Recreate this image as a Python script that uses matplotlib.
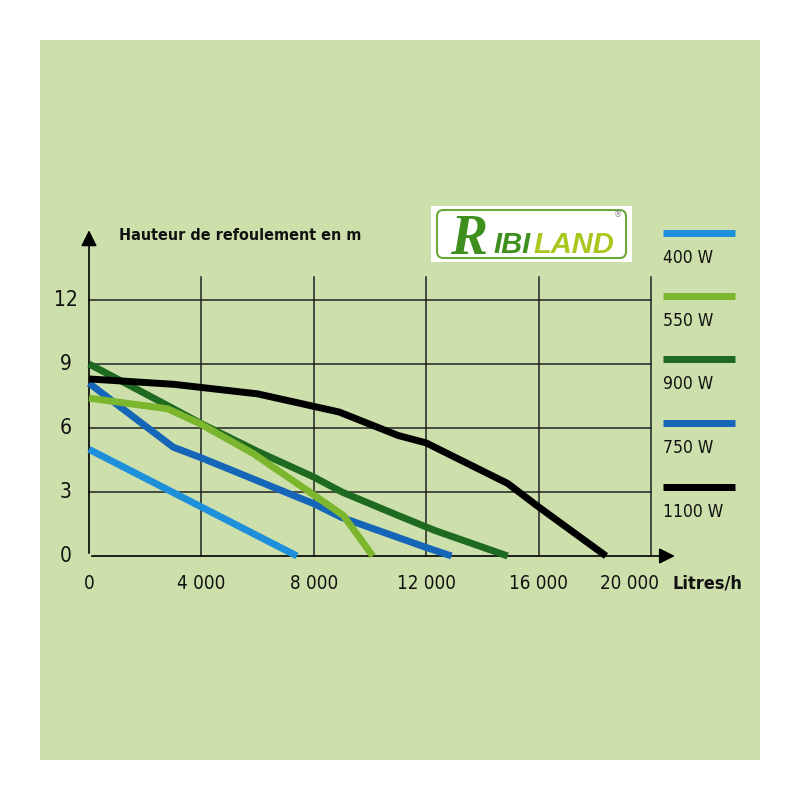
import matplotlib
matplotlib.use('Agg')
import matplotlib.pyplot as plt
from matplotlib import font_manager
from matplotlib.lines import Line2D
from matplotlib.patches import Rectangle, FancyBboxPatch

# pump curves: flow (L/h) vs head (m)
x_400 = [0, 7400]
y_400 = [5.0, 0]
x_550 = [0, 2800, 3950, 5850, 7850, 9050, 10100]
y_550 = [7.4, 6.9, 6.2, 4.8, 3.0, 1.9, 0]
x_900 = [0, 2300, 4000, 6000, 8000, 9000, 11000, 12300, 14900]
y_900 = [9.0, 7.4, 6.2, 4.9, 3.7, 3.0, 1.9, 1.2, 0]
x_750 = [0, 3000, 4000, 8000, 9000, 12000, 12900]
y_750 = [8.1, 5.1, 4.6, 2.45, 1.8, 0.4, 0]
x_1100 = [0, 3000, 6000, 8900, 11000, 12000, 14900, 16000, 18400]
y_1100 = [8.3, 8.05, 7.6, 6.75, 5.65, 5.3, 3.4, 2.3, 0]

labels = ['400 W', '550 W', '900 W', '750 W', '1100 W']
colors = ['#1e8fdb', '#7cb62f', '#1e6a20', '#1565b9', '#000000']
xticks = [0, 4000, 8000, 12000, 16000, 20000]
xtick_labels = ['0', '4 000', '8 000', '12 000', '16 000', '20 000']
yticks = [0, 3, 6, 9, 12]

names = {f.name for f in font_manager.fontManager.ttflist}
if 'Liberation Sans Narrow' in names:
    FONT = dict(family='Liberation Sans Narrow')
else:
    FONT = dict(family='DejaVu Sans', stretch='condensed')

def P(x, y):
    return x / 800, 1 - y / 800

fig = plt.figure(figsize=(8, 8), dpi=100)
fig.patch.set_facecolor('white')
fig.add_artist(Rectangle(P(40, 760), 720 / 800, 720 / 800, transform=fig.transFigure,
                         facecolor='#cde0ab', edgecolor='none', zorder=0))

ax = fig.add_axes([89 / 800, (800 - 556) / 800, (651 - 89) / 800, (556 - 300) / 800])
ax.set_xlim(0, 20000)
ax.set_ylim(0, 12)
ax.axis('off')
ax.patch.set_alpha(0)

# grid
for xv in xticks[1:]:
    ax.plot([xv, xv], [0, 13.1], color='#222222', lw=1.1, clip_on=False, zorder=1)
for yv in yticks[1:]:
    ax.plot([0, 20000], [yv, yv], color='#222222', lw=1.1, clip_on=False, zorder=1)

# axes with arrows
ax.annotate('', xy=(0, 15.4), xytext=(0, 0), annotation_clip=False,
            arrowprops=dict(arrowstyle='-|>', mutation_scale=24, lw=1.2, color='black'))
ax.annotate('', xy=(20950, 0), xytext=(0, 0), annotation_clip=False,
            arrowprops=dict(arrowstyle='-|>', mutation_scale=24, lw=1.2, color='black'))

series = [(x_400, y_400), (x_550, y_550), (x_900, y_900), (x_750, y_750), (x_1100, y_1100)]
order = [0, 3, 2, 1, 4]
for i in order:
    xs, ys = series[i]
    ax.plot(xs, ys, color=colors[i], lw=5, solid_capstyle='butt', clip_on=False, zorder=3)

for yv in yticks:
    ax.text(-820, yv, str(yv), ha='center', va='center', fontsize=15, color='#111111', **FONT)
for xv, lab in zip(xticks, xtick_labels):
    if xv == xticks[-1]:
        # last label sits left of its gridline, before "Litres/h"
        ax.text(xv + 300, -1.27, lab, ha='right', va='center', fontsize=13.5, color='#111111', **FONT)
    else:
        ax.text(xv, -1.27, lab, ha='center', va='center', fontsize=13.5, color='#111111', **FONT)

ax.text(20750, -1.27, 'Litres/h', ha='left', va='center', fontsize=13, fontweight='bold',
        color='#111111', **FONT)
fig.text(*P(119, 236), 'Hauteur de refoulement en m', ha='left', va='center', fontsize=11.5,
         fontweight='bold', color='#111111', **FONT)

# legend
leg_y = [233, 296, 359, 423, 487]
for lab, c, y in zip(labels, colors, leg_y):
    fig.add_artist(Line2D([663 / 800, 735 / 800], [1 - y / 800, 1 - y / 800], color=c, lw=5,
                          solid_capstyle='butt', transform=fig.transFigure))
    fig.text(*P(663, y + 25), lab, ha='left', va='center', fontsize=12.5, color='#111111', **FONT)

# logo
fig.add_artist(Rectangle(P(431, 262), 201 / 800, 56 / 800, transform=fig.transFigure,
                         facecolor='white', edgecolor='none', zorder=2))
fig.add_artist(FancyBboxPatch(P(437, 258), 189 / 800, 48 / 800, transform=fig.transFigure,
                              boxstyle='round,pad=0,rounding_size=0.008',
                              facecolor='white', edgecolor='#6aa83a', lw=1.5, zorder=3))
fig.text(*P(450, 254), 'R', ha='left', va='baseline', fontsize=40, fontweight='bold',
         fontstyle='italic', family='Liberation Serif', color='#3f8f1f', zorder=4)
fig.text(*P(493, 253), 'IBI', ha='left', va='baseline', fontsize=21, fontweight='bold',
         fontstyle='italic', family='Liberation Sans', color='#3f8f1f', zorder=4)
fig.text(*P(533, 253), 'LAND', ha='left', va='baseline', fontsize=21, fontweight='bold',
         fontstyle='italic', family='Liberation Sans', color='#a8c81e', zorder=4)
fig.text(*P(618, 215), '®', ha='center', va='center', fontsize=6, color='#888888', zorder=4)

fig.savefig('out.png', dpi=100)
